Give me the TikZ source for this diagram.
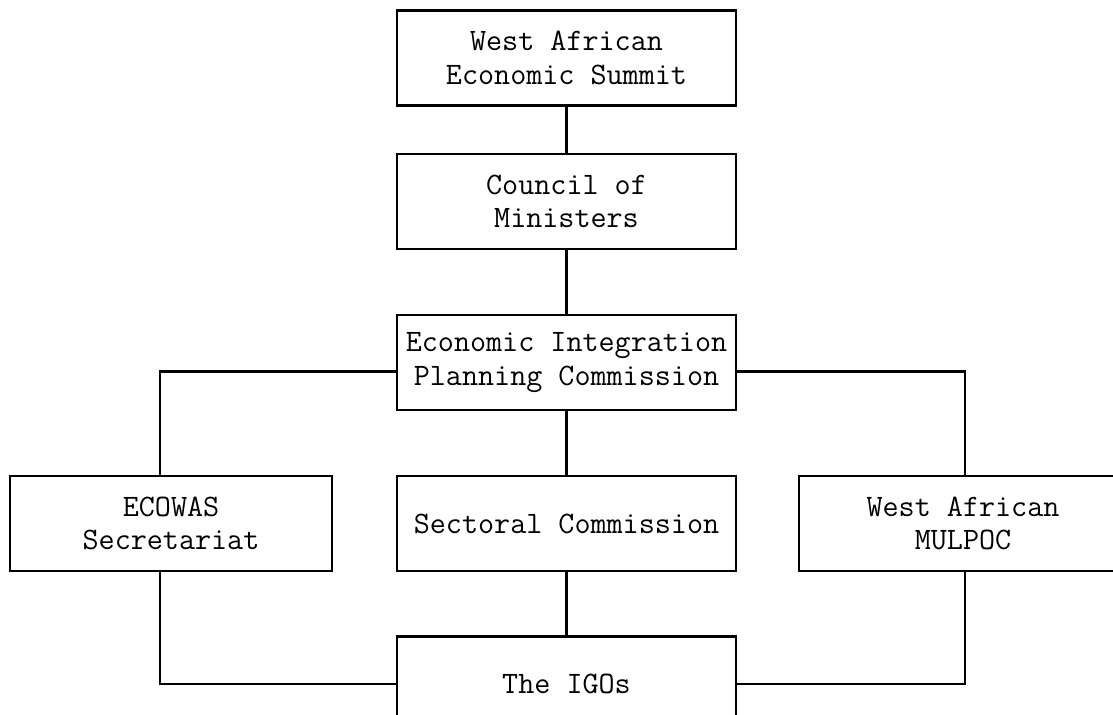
\documentclass[tikz,border=0pt]{standalone}
\usepackage{tikz}
\usetikzlibrary{positioning, calc}

\begin{document}
\begin{tikzpicture}[x=0.5pt, y=-0.5pt, line width=1.1pt,
    orgbox/.style={draw, align=center, inner sep=0pt,
        minimum width=169.5pt, minimum height=47.5pt,
        font=\fontsize{15.6}{16.6}\selectfont\ttfamily}]
        \useasboundingbox (0,0) rectangle (1113,714);
        \clip (0,0) rectangle (1113,714);

        % Main column
        \node[orgbox] (summit) at (566.5,58) {West African\\Economic Summit};
        \node[orgbox] (council) at (566.5,201.5) {Council of\\Ministers};
        \node[orgbox] (eipc) at (566.5,362.5) {Economic Integration\\Planning Commission};
        \node[orgbox] (sectoral) at (566.5,523.5) {Sectoral Commission};
        \node[orgbox] (igos) at (566.5,684) {The IGOs};

        % Side boxes
        \node[orgbox, minimum width=161pt] (ecowas) at (171,523.5) {ECOWAS\\Secretariat};
        \node[orgbox, minimum width=164pt] (mulpoc) at (963,523.5) {West African\\MULPOC};

        % Columns of the side links
        \coordinate (lft) at (160,0);
        \coordinate (rgt) at (965,0);

        \draw (summit) -- (council);
        \draw (council) -- (eipc);
        \draw (eipc) -- (sectoral);
        \draw (sectoral) -- (igos);

        \draw ([yshift=-4.5pt]eipc.west) -| (ecowas.north -| lft);
        \draw ([yshift=-4.5pt]eipc.east) -| (mulpoc.north -| rgt);
        \draw (ecowas.south -| lft) |- (igos.west);
        \draw (mulpoc.south -| rgt) |- (igos.east);
    \end{tikzpicture}
\end{document}
